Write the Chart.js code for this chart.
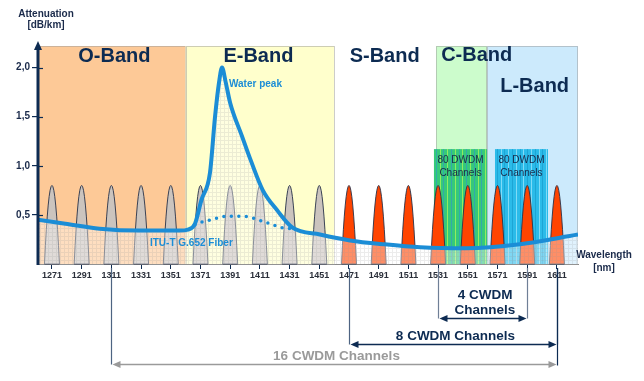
<!DOCTYPE html>
<html>
<head>
<meta charset="utf-8">
<script src="https://cdn.jsdelivr.net/npm/chart.js@4.4.0/dist/chart.umd.min.js"></script>
<style>
  body { margin: 0; background: #fff; }
</style>
</head>
<body>
<canvas id="bandChart" width="644" height="381"></canvas>
<script>
// CWDM channel grid (nm) and peak height (dB/km scale)
const channels = [1271, 1291, 1311, 1331, 1351, 1371, 1391, 1411, 1431, 1451,
                  1471, 1491, 1511, 1531, 1551, 1571, 1591, 1611];
const channelHeight = 0.8;
const yTicks = [0.5, 1.0, 1.5, 2.0];

// attenuation curve of standard fiber (with water peak)
const waveLen = [1261.6, 1280, 1303, 1330, 1357, 1362.6, 1367.3, 1371.6, 1377.4, 1380.8,
                 1383.5, 1385.5, 1388, 1391, 1399, 1405, 1413, 1422.5, 1433, 1451.5,
                 1471.7, 1495, 1519, 1550, 1586, 1625.2];
const attenuation = [0.45, 0.41, 0.36, 0.34, 0.34, 0.35, 0.41, 0.65, 0.93, 1.5,
                     1.85, 2.0, 1.85, 1.64, 1.3, 1.05, 0.75, 0.55, 0.37, 0.3,
                     0.24, 0.2, 0.17, 0.16, 0.2, 0.3];

// ITU-T G.652 (low water peak) dotted curve
const lowWpLen = [1367.3, 1372.7, 1378, 1388.8, 1399.6, 1415.8, 1429.9, 1433];
const lowWpAtt = [0.4, 0.43, 0.45, 0.485, 0.485, 0.42, 0.36, 0.37];

// bands
const bandNames = ['O-Band', 'E-Band', 'S-Band', 'C-Band', 'L-Band'];
const bandStart = [1260, 1361, 1461, 1529.6, 1564];
const bandEnd = [1361, 1461, 1529.6, 1564, 1625.2];
const bandColors = ['#fdc997', '#ffffcc', null, '#ccfccc', '#cceafc'];

// DWDM blocks
const dwdmStart = [1528.2, 1569.3];
const dwdmEnd = [1564, 1605];
const dwdmTop = 1.17;
const dwdmText = ['80 DWDM', 'Channels'];

// CWDM spans below axis
const spanFrom = [1531, 1471, 1311];
const spanTo = [1591, 1611, 1611];
const spanText = [['4 CWDM', 'Channels'], ['8 CWDM Channels'], ['16 CWDM Channels']];

const navy = '#0d2b52';
const blue = '#1b8dd6';
const FONT = '"Liberation Sans", Arial, sans-serif';

// light grid pattern for the area under the curve
const pc = document.createElement('canvas');
pc.width = 4; pc.height = 4;
const pg = pc.getContext('2d');
pg.fillStyle = 'rgba(255,255,255,0.4)';
pg.fillRect(0, 0, 4, 4);
pg.fillStyle = 'rgba(150,150,150,0.18)';
pg.fillRect(0, 0, 4, 1);
pg.fillRect(0, 1, 1, 3);
const underPattern = pg.createPattern(pc, 'repeat');

const bandPlugin = {
    id: 'bands',
    beforeDatasetsDraw(chart) {
        const { ctx, chartArea: a, scales: { x, y } } = chart;
        ctx.save();
        ctx.beginPath();
        ctx.rect(a.left, a.top - 1, a.right - a.left, a.bottom - a.top + 2);
        ctx.clip();

        // band backgrounds
        bandNames.forEach((name, i) => {
            if (!bandColors[i]) return;
            const x0 = Math.max(a.left, x.getPixelForValue(bandStart[i]));
            const x1 = Math.min(a.right, x.getPixelForValue(bandEnd[i]));
            ctx.fillStyle = bandColors[i];
            ctx.fillRect(x0, a.top, x1 - x0, a.bottom - a.top);
            ctx.setLineDash([1, 1]);
            ctx.strokeStyle = '#9a9a9a';
            ctx.lineWidth = 1;
            ctx.strokeRect(Math.round(x0) + 0.5, a.top + 0.5, Math.round(x1 - x0) - 1, a.bottom - a.top);
            ctx.setLineDash([]);
        });

        // DWDM blocks with stripes
        const yt = y.getPixelForValue(dwdmTop);
        dwdmStart.forEach((s, i) => {
            const x0 = x.getPixelForValue(s);
            const x1 = x.getPixelForValue(dwdmEnd[i]);
            ctx.fillStyle = i === 0 ? '#35c97a' : '#2bbbe9';
            ctx.fillRect(x0, yt, x1 - x0, a.bottom - yt);
            const n = 14;
            for (let k = 0; k < n; k++) {
                const sx = Math.round(x0 + (k + 0.5) * (x1 - x0) / n) + 0.5;
                ctx.strokeStyle = i === 0
                    ? (k % 2 ? 'rgba(170,245,90,0.8)' : 'rgba(50,150,200,0.6)')
                    : (k % 2 ? 'rgba(150,228,250,0.8)' : 'rgba(20,150,200,0.6)');
                ctx.lineWidth = 1;
                ctx.beginPath();
                ctx.moveTo(sx, yt);
                ctx.lineTo(sx, a.bottom);
                ctx.stroke();
            }
        });

        // CWDM channel peaks
        const hw = 5.05;
        channels.forEach(c => {
            const xl = x.getPixelForValue(c - hw);
            const xc = x.getPixelForValue(c);
            const xr = x.getPixelForValue(c + hw);
            const yb = y.getPixelForValue(0);
            const ytop = y.getPixelForValue(channelHeight);
            ctx.beginPath();
            ctx.moveTo(xl, yb);
            ctx.quadraticCurveTo(xc, yb - 2 * (yb - ytop), xr, yb);
            ctx.closePath();
            ctx.fillStyle = c < 1460 ? '#cbc4be' : '#ff4400';
            ctx.fill();
            ctx.strokeStyle = '#28324a';
            ctx.lineWidth = 0.9;
            ctx.stroke();
        });
        ctx.restore();
    },
    afterDraw(chart) {
        const { ctx, chartArea: a, scales: { x, y } } = chart;
        ctx.save();

        // y axis with arrow
        ctx.strokeStyle = navy;
        ctx.lineWidth = 3;
        ctx.beginPath();
        ctx.moveTo(a.left, a.bottom + 1);
        ctx.lineTo(a.left, a.top);
        ctx.stroke();
        ctx.fillStyle = navy;
        ctx.beginPath();
        ctx.moveTo(a.left, a.top - 5);
        ctx.lineTo(a.left - 4, a.top + 4);
        ctx.lineTo(a.left + 4, a.top + 4);
        ctx.closePath();
        ctx.fill();
        ctx.lineWidth = 1.2;
        yTicks.forEach(v => {
            const py = Math.round(y.getPixelForValue(v)) + 0.5;
            ctx.beginPath();
            ctx.moveTo(a.left, py);
            ctx.lineTo(a.left + 5, py);
            ctx.stroke();
        });

        // axis titles
        ctx.fillStyle = '#1a2a4a';
        ctx.font = 'bold 10px ' + FONT;
        ctx.textAlign = 'center';
        ctx.textBaseline = 'alphabetic';
        ctx.fillText('Attenuation', 46, 17);
        ctx.fillText('[dB/km]', 46, 28);
        ctx.fillText('Wavelength', 604, 258);
        ctx.fillText('[nm]', 604, 271);

        // band labels
        ctx.fillStyle = navy;
        ctx.font = 'bold 20px ' + FONT;
        const labelX = [1313, 1410, 1495, 1557, 1596];
        const labelDy = [16, 16, 16, 15, 46];
        bandNames.forEach((name, i) => {
            ctx.fillText(name, x.getPixelForValue(labelX[i]), a.top + labelDy[i]);
        });

        // DWDM labels
        ctx.fillStyle = '#1a2a4a';
        ctx.font = '10px ' + FONT;
        const yt = y.getPixelForValue(dwdmTop);
        dwdmStart.forEach((s, i) => {
            const cx = (x.getPixelForValue(s) + x.getPixelForValue(dwdmEnd[i])) / 2;
            ctx.fillText(dwdmText[0], cx, yt + 14);
            ctx.fillText(dwdmText[1], cx, yt + 27);
        });

        // curve labels
        ctx.fillStyle = blue;
        ctx.font = 'bold 10px ' + FONT;
        ctx.textAlign = 'left';
        ctx.fillText('Water peak', x.getPixelForValue(1390.2), y.getPixelForValue(1.8));
        ctx.fillText('ITU-T G.652 Fiber', x.getPixelForValue(1337), y.getPixelForValue(0.18));

        // CWDM spans
        const arrowY = [318, 344, 364];
        const spanColor = [navy, navy, '#9a9a9a'];
        const lineColor = ['#6f7f96', '#4e6482', '#4e6482'];
        ctx.textAlign = 'center';
        spanFrom.forEach((f, i) => {
            const x0 = Math.round(x.getPixelForValue(f)) + 0.5;
            const x1 = Math.round(x.getPixelForValue(spanTo[i])) + 0.5;
            const ay = arrowY[i] + 0.5;
            ctx.strokeStyle = lineColor[i];
            ctx.lineWidth = 1.2;
            ctx.beginPath();
            ctx.moveTo(x0, a.bottom + 4);
            ctx.lineTo(x0, ay);
            ctx.stroke();
            ctx.strokeStyle = i === 0 ? lineColor[0] : navy;
            ctx.beginPath();
            ctx.moveTo(x1, a.bottom + 4);
            ctx.lineTo(x1, ay + (i === 2 ? 1 : 0));
            ctx.stroke();

            ctx.strokeStyle = spanColor[i];
            ctx.fillStyle = spanColor[i];
            ctx.lineWidth = 1.6;
            ctx.beginPath();
            ctx.moveTo(x0 + 4, ay);
            ctx.lineTo(x1 - 4, ay);
            ctx.stroke();
            ctx.beginPath();
            ctx.moveTo(x0 + 1, ay);
            ctx.lineTo(x0 + 9, ay - 3.5);
            ctx.lineTo(x0 + 9, ay + 3.5);
            ctx.closePath();
            ctx.fill();
            ctx.beginPath();
            ctx.moveTo(x1 - 1, ay);
            ctx.lineTo(x1 - 9, ay - 3.5);
            ctx.lineTo(x1 - 9, ay + 3.5);
            ctx.closePath();
            ctx.fill();

            ctx.font = 'bold 13.5px ' + FONT;
            const cx = (x0 + x1) / 2 + 2;
            const lines = spanText[i];
            lines.forEach((t, k) => {
                ctx.fillText(t, cx, ay - 5 - (lines.length - 1 - k) * 15);
            });
        });
        ctx.restore();
    }
};

const ctx = document.getElementById('bandChart').getContext('2d');
new Chart(ctx, {
    type: 'line',
    data: {
        datasets: [
            {
                data: lowWpLen.map((v, i) => ({ x: v, y: lowWpAtt[i] })),
                borderColor: blue,
                borderWidth: 3.5,
                borderDash: [0, 7.5],
                borderCapStyle: 'round',
                pointRadius: 0,
                cubicInterpolationMode: 'monotone',
                fill: false,
            },
            {
                data: waveLen.map((v, i) => ({ x: v, y: attenuation[i] })),
                borderColor: blue,
                borderWidth: 4,
                pointRadius: 0,
                cubicInterpolationMode: 'monotone',
                fill: 'origin',
                backgroundColor: underPattern,
            },
        ],
    },
    options: {
        responsive: false,
        animation: false,
        layout: { padding: { left: 0, right: 66, top: 46, bottom: 0 } },
        plugins: {
            legend: { display: false },
            tooltip: { enabled: false },
        },
        scales: {
            x: {
                type: 'linear',
                min: 1261.6,
                max: 1625.2,
                afterBuildTicks: scale => { scale.ticks = channels.map(v => ({ value: v })); },
                afterFit: scale => { scale.height = 117; },
                ticks: {
                    autoSkip: false,
                    maxRotation: 0,
                    padding: 1,
                    color: '#2a2f3a',
                    font: { family: FONT, size: 9, weight: 'bold' },
                    callback: v => String(v),
                },
                grid: { drawOnChartArea: false, tickLength: 5, color: navy },
                border: { display: true, color: '#8a8a8a', dash: [1, 2] },
            },
            y: {
                min: 0,
                max: 2.22,
                afterBuildTicks: scale => { scale.ticks = yTicks.map(v => ({ value: v })); },
                afterFit: scale => { scale.width = 38; },
                ticks: {
                    padding: 2,
                    color: '#1a2a4a',
                    font: { family: FONT, size: 10, weight: 'bold' },
                    callback: v => v.toFixed(1).replace('.', ','),
                },
                grid: { drawOnChartArea: false, tickLength: 6, color: navy, lineWidth: 1.2 },
                border: { display: false },
            },
        },
    },
    plugins: [bandPlugin],
});
</script>
</body>
</html>
